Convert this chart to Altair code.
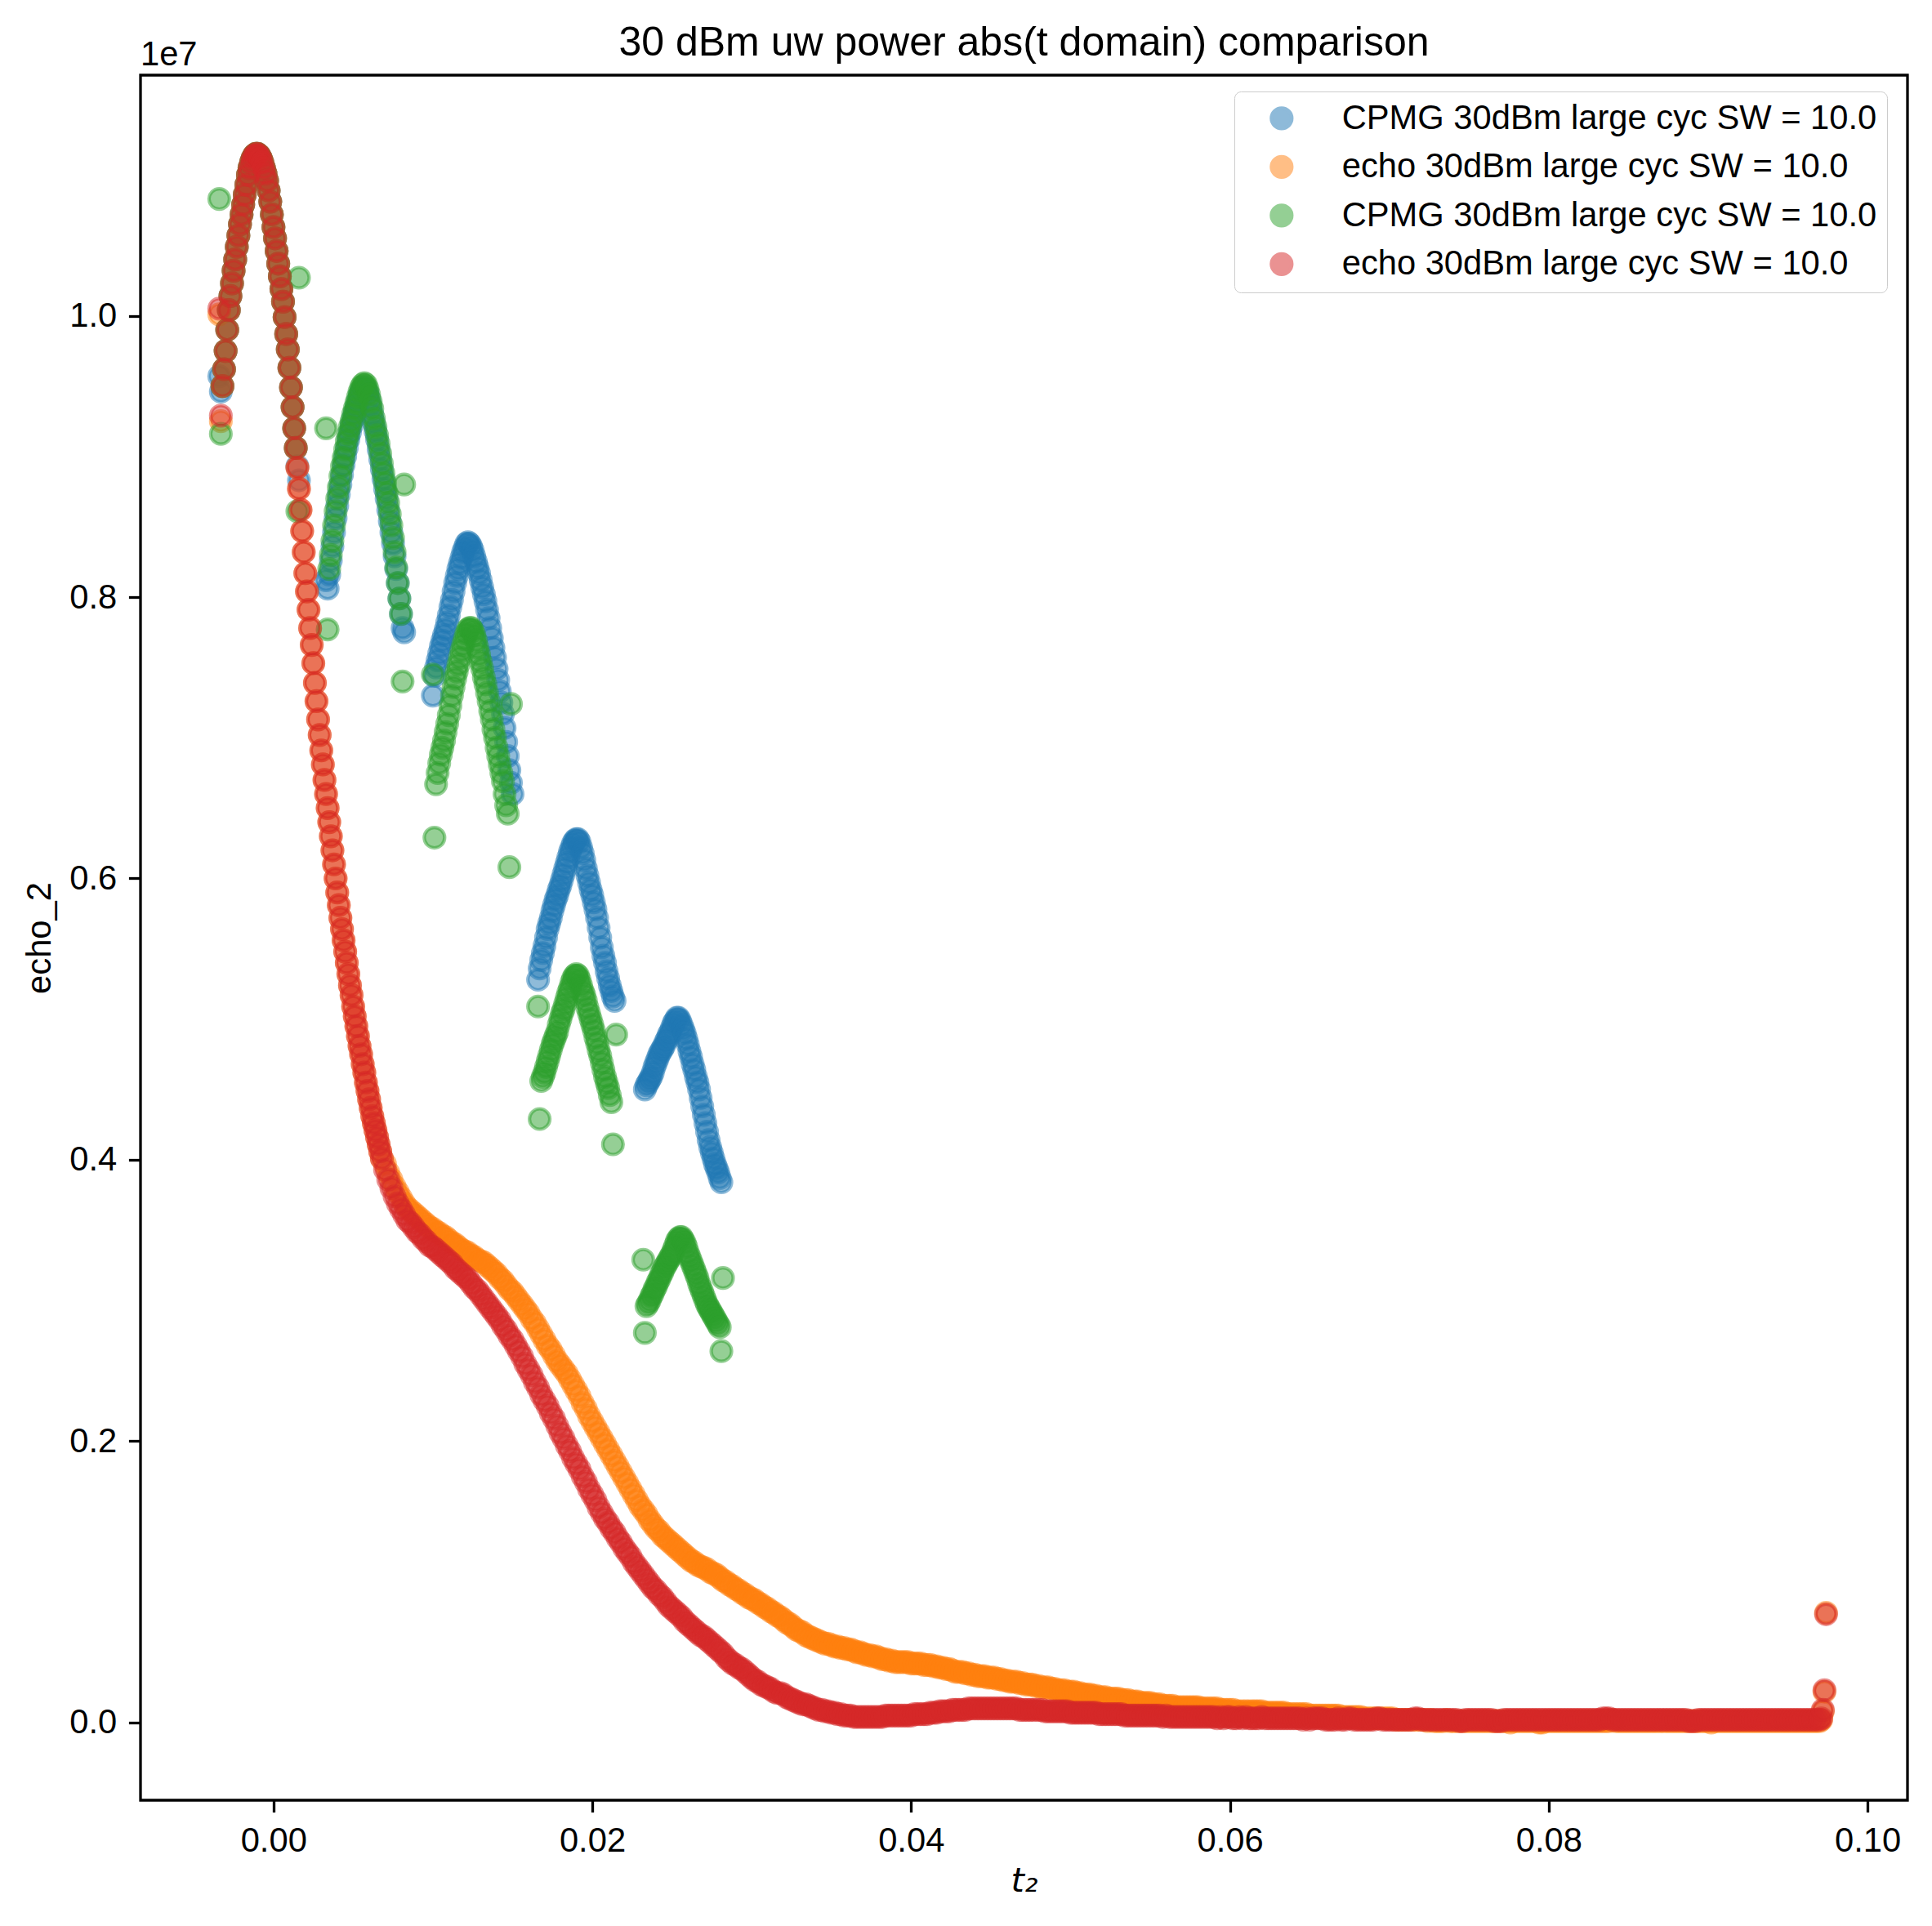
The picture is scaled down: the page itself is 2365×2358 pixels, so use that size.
import altair as alt
import pandas as pd

DT = 0.0001  # one sample = 1 / SW (10 kHz)

TITLE = "30 dBm uw power abs(t domain) comparison"
LABELS = [
    "CPMG 30dBm large cyc SW = 10.0",
    "echo 30dBm large cyc SW = 10.0",
    "CPMG 30dBm large cyc SW = 10.0",
    "echo 30dBm large cyc SW = 10.0",
]
COLORS = ["#1f77b4", "#ff7f0e", "#2ca02c", "#d62728"]
X_TICKS = [0.0, 0.02, 0.04, 0.06, 0.08, 0.10]
Y_TICKS = [0.0, 0.2, 0.4, 0.6, 0.8, 1.0]

# all echo_2 values are in units of 1e7

# first echo, t2 = -0.0034 ... 0.0068 every DT (all four traces sit on it)
echo_head = [
    1.005, 0.929, 0.950, 0.962, 0.975, 0.990, 1.004, 1.014, 1.023, 1.032,
    1.040, 1.049, 1.057, 1.065, 1.072, 1.079, 1.086, 1.093, 1.100, 1.105,
    1.109, 1.112, 1.114, 1.115, 1.115, 1.114, 1.112, 1.109, 1.105, 1.101,
    1.096, 1.089, 1.081, 1.072, 1.063, 1.055, 1.046, 1.037, 1.028, 1.019,
    1.010, 0.999, 0.987, 0.976, 0.963, 0.949, 0.935, 0.920, 0.906, 0.892,
    0.877, 0.862, 0.847, 0.832, 0.817, 0.804, 0.791, 0.778, 0.766, 0.753,
    0.739, 0.726, 0.713, 0.702, 0.691, 0.681, 0.670, 0.660, 0.650, 0.640,
    0.630, 0.620, 0.610, 0.600, 0.590, 0.581, 0.572, 0.564, 0.556, 0.548,
    0.540, 0.532, 0.524, 0.517, 0.509, 0.502, 0.495, 0.488, 0.481, 0.475,
    0.468, 0.462, 0.455, 0.449, 0.443, 0.437, 0.431, 0.426, 0.421, 0.416,
    0.411, 0.406, 0.401,
]

# echo trace (red), t2 = 0.0070 ... 0.0970 every 2*DT, one row per 0.002
red_tail = [
    0.393, 0.386, 0.380, 0.374, 0.369, 0.365, 0.361, 0.357, 0.355, 0.352,
    0.349, 0.347, 0.344, 0.342, 0.339, 0.338, 0.336, 0.334, 0.332, 0.330,
    0.328, 0.326, 0.323, 0.321, 0.319, 0.317, 0.315, 0.312, 0.309, 0.307,
    0.304, 0.301, 0.298, 0.295, 0.292, 0.289, 0.286, 0.282, 0.279, 0.275,
    0.272, 0.268, 0.264, 0.260, 0.255, 0.251, 0.247, 0.242, 0.238, 0.233,
    0.229, 0.225, 0.220, 0.216, 0.211, 0.206, 0.202, 0.197, 0.193, 0.188,
    0.184, 0.180, 0.175, 0.171, 0.166, 0.162, 0.158, 0.153, 0.149, 0.145,
    0.142, 0.138, 0.135, 0.131, 0.128, 0.124, 0.121, 0.118, 0.114, 0.111,
    0.108, 0.105, 0.102, 0.099, 0.096, 0.094, 0.091, 0.089, 0.086, 0.083,
    0.081, 0.079, 0.077, 0.075, 0.072, 0.070, 0.068, 0.066, 0.064, 0.062,
    0.061, 0.059, 0.057, 0.055, 0.053, 0.051, 0.049, 0.046, 0.044, 0.042,
    0.041, 0.039, 0.038, 0.036, 0.034, 0.032, 0.030, 0.029, 0.027, 0.026,
    0.025, 0.024, 0.022, 0.021, 0.021, 0.020, 0.018, 0.017, 0.016, 0.015,
    0.014, 0.013, 0.013, 0.012, 0.011, 0.010, 0.009, 0.009, 0.008, 0.008,
    0.007, 0.007, 0.006, 0.006, 0.005, 0.005, 0.005, 0.004, 0.004, 0.004,
    0.004, 0.004, 0.004, 0.004, 0.004, 0.004, 0.004, 0.005, 0.005, 0.005,
    0.005, 0.005, 0.005, 0.005, 0.005, 0.005, 0.006, 0.006, 0.006, 0.006,
    0.006, 0.007, 0.007, 0.007, 0.008, 0.008, 0.008, 0.008, 0.009, 0.009,
    0.009, 0.009, 0.009, 0.010, 0.010, 0.010, 0.010, 0.010, 0.010, 0.010,
    0.010, 0.010, 0.010, 0.010, 0.010, 0.010, 0.010, 0.010, 0.010, 0.009,
    0.009, 0.009, 0.009, 0.009, 0.009, 0.009, 0.009, 0.008, 0.008, 0.008,
    0.008, 0.008, 0.008, 0.008, 0.008, 0.007, 0.007, 0.007, 0.007, 0.007,
    0.007, 0.007, 0.007, 0.007, 0.006, 0.006, 0.006, 0.006, 0.006, 0.006,
    0.006, 0.006, 0.005, 0.005, 0.005, 0.005, 0.005, 0.005, 0.005, 0.005,
    0.005, 0.005, 0.005, 0.005, 0.004, 0.005, 0.004, 0.004, 0.004, 0.004,
    0.004, 0.004, 0.004, 0.004, 0.004, 0.004, 0.004, 0.004, 0.004, 0.004,
    0.004, 0.003, 0.004, 0.003, 0.004, 0.004, 0.003, 0.003, 0.004, 0.003,
    0.004, 0.003, 0.003, 0.003, 0.003, 0.004, 0.003, 0.003, 0.003, 0.003,
    0.003, 0.003, 0.003, 0.003, 0.003, 0.003, 0.003, 0.003, 0.002, 0.003,
    0.002, 0.003, 0.003, 0.003, 0.003, 0.002, 0.002, 0.002, 0.002, 0.003,
    0.002, 0.002, 0.003, 0.003, 0.002, 0.002, 0.002, 0.002, 0.002, 0.002,
    0.002, 0.003, 0.003, 0.002, 0.002, 0.002, 0.002, 0.002, 0.002, 0.002,
    0.002, 0.002, 0.002, 0.003, 0.003, 0.002, 0.002, 0.002, 0.002, 0.002,
    0.002, 0.002, 0.002, 0.002, 0.002, 0.002, 0.002, 0.001, 0.001, 0.002,
    0.002, 0.002, 0.002, 0.002, 0.002, 0.002, 0.002, 0.002, 0.001, 0.001,
    0.001, 0.002, 0.002, 0.002, 0.002, 0.002, 0.002, 0.002, 0.002, 0.002,
    0.002, 0.002, 0.002, 0.002, 0.002, 0.002, 0.002, 0.002, 0.002, 0.002,
    0.002, 0.002, 0.002, 0.002, 0.002, 0.002, 0.002, 0.002, 0.002, 0.002,
    0.002, 0.002, 0.003, 0.003, 0.003, 0.002, 0.002, 0.002, 0.002, 0.002,
    0.002, 0.002, 0.002, 0.002, 0.002, 0.002, 0.002, 0.002, 0.002, 0.002,
    0.002, 0.002, 0.002, 0.002, 0.002, 0.002, 0.002, 0.002, 0.002, 0.001,
    0.001, 0.001, 0.002, 0.002, 0.002, 0.002, 0.002, 0.002, 0.002, 0.002,
    0.002, 0.002, 0.002, 0.002, 0.002, 0.002, 0.002, 0.002, 0.002, 0.002,
    0.002, 0.002, 0.002, 0.002, 0.002, 0.002, 0.002, 0.002, 0.002, 0.002,
    0.002, 0.002, 0.002, 0.002, 0.002, 0.002, 0.002, 0.002, 0.002, 0.002,
    0.002,
]
# t2 = 0.0971 ... 0.0974 every DT
red_end = [0.003, 0.009, 0.023, 0.077]

# echo trace (orange), t2 = 0.0070 ... 0.0970 every 2*DT
orange_tail = [
    0.397, 0.391, 0.386, 0.381, 0.377, 0.373, 0.369, 0.366, 0.364, 0.362,
    0.360, 0.358, 0.356, 0.354, 0.352, 0.351, 0.349, 0.348, 0.346, 0.345,
    0.343, 0.341, 0.340, 0.338, 0.336, 0.335, 0.334, 0.332, 0.331, 0.329,
    0.328, 0.327, 0.325, 0.323, 0.321, 0.319, 0.316, 0.314, 0.311, 0.308,
    0.306, 0.303, 0.300, 0.297, 0.294, 0.291, 0.287, 0.284, 0.280, 0.276,
    0.272, 0.268, 0.265, 0.261, 0.257, 0.254, 0.251, 0.248, 0.244, 0.240,
    0.236, 0.232, 0.227, 0.223, 0.218, 0.214, 0.210, 0.206, 0.202, 0.198,
    0.194, 0.190, 0.186, 0.182, 0.178, 0.174, 0.170, 0.166, 0.162, 0.158,
    0.154, 0.151, 0.148, 0.144, 0.141, 0.138, 0.136, 0.133, 0.131, 0.129,
    0.127, 0.125, 0.123, 0.121, 0.119, 0.117, 0.115, 0.114, 0.112, 0.111,
    0.110, 0.109, 0.107, 0.106, 0.105, 0.103, 0.101, 0.100, 0.098, 0.097,
    0.095, 0.094, 0.092, 0.091, 0.089, 0.088, 0.087, 0.085, 0.084, 0.082,
    0.081, 0.079, 0.078, 0.076, 0.075, 0.073, 0.071, 0.070, 0.068, 0.066,
    0.065, 0.064, 0.062, 0.061, 0.060, 0.059, 0.058, 0.057, 0.056, 0.056,
    0.055, 0.054, 0.054, 0.053, 0.053, 0.052, 0.052, 0.051, 0.050, 0.050,
    0.049, 0.048, 0.048, 0.047, 0.047, 0.046, 0.045, 0.045, 0.044, 0.044,
    0.043, 0.043, 0.043, 0.043, 0.043, 0.042, 0.042, 0.042, 0.042, 0.041,
    0.041, 0.041, 0.040, 0.040, 0.039, 0.039, 0.038, 0.038, 0.037, 0.036,
    0.036, 0.036, 0.035, 0.035, 0.034, 0.034, 0.033, 0.033, 0.033, 0.032,
    0.032, 0.032, 0.031, 0.031, 0.030, 0.030, 0.029, 0.029, 0.029, 0.028,
    0.028, 0.027, 0.027, 0.027, 0.026, 0.026, 0.025, 0.025, 0.025, 0.024,
    0.024, 0.023, 0.023, 0.023, 0.022, 0.022, 0.022, 0.021, 0.021, 0.020,
    0.020, 0.020, 0.019, 0.019, 0.018, 0.018, 0.018, 0.017, 0.017, 0.017,
    0.017, 0.016, 0.016, 0.016, 0.015, 0.015, 0.015, 0.014, 0.014, 0.014,
    0.014, 0.013, 0.013, 0.013, 0.012, 0.012, 0.012, 0.012, 0.011, 0.011,
    0.011, 0.011, 0.011, 0.011, 0.011, 0.011, 0.010, 0.010, 0.010, 0.010,
    0.010, 0.010, 0.009, 0.009, 0.009, 0.009, 0.009, 0.008, 0.008, 0.008,
    0.008, 0.008, 0.008, 0.008, 0.008, 0.008, 0.007, 0.007, 0.007, 0.007,
    0.007, 0.007, 0.007, 0.006, 0.006, 0.006, 0.006, 0.006, 0.006, 0.006,
    0.005, 0.005, 0.005, 0.005, 0.005, 0.005, 0.005, 0.005, 0.005, 0.005,
    0.004, 0.004, 0.004, 0.004, 0.004, 0.004, 0.004, 0.003, 0.003, 0.003,
    0.003, 0.003, 0.003, 0.003, 0.003, 0.003, 0.003, 0.002, 0.002, 0.002,
    0.002, 0.002, 0.002, 0.002, 0.002, 0.002, 0.002, 0.001, 0.002, 0.001,
    0.001, 0.001, 0.001, 0.002, 0.001, 0.001, 0.001, 0.001, 0.001, 0.001,
    0.001, 0.001, 0.001, 0.001, 0.001, 0.001, 0.001, 0.001, 0.001, 0.001,
    0.001, 0.001, 0.001, 0.000, 0.001, 0.001, 0.001, 0.001, 0.001, 0.001,
    0.001, 0.001, 0.000, 0.000, 0.001, 0.001, 0.001, 0.001, 0.001, 0.001,
    0.001, 0.001, 0.001, 0.001, 0.001, 0.001, 0.001, 0.001, 0.001, 0.001,
    0.001, 0.001, 0.001, 0.001, 0.001, 0.002, 0.001, 0.001, 0.001, 0.001,
    0.001, 0.001, 0.001, 0.001, 0.001, 0.001, 0.001, 0.001, 0.001, 0.001,
    0.001, 0.001, 0.001, 0.001, 0.001, 0.001, 0.001, 0.001, 0.001, 0.001,
    0.001, 0.001, 0.001, 0.001, 0.001, 0.001, 0.000, 0.001, 0.001, 0.001,
    0.001, 0.001, 0.001, 0.001, 0.001, 0.001, 0.001, 0.001, 0.001, 0.001,
    0.001, 0.001, 0.001, 0.001, 0.001, 0.001, 0.001, 0.001, 0.001, 0.001,
    0.001, 0.001, 0.001, 0.001, 0.001, 0.001, 0.001, 0.001, 0.001, 0.001,
    0.001,
]
orange_end = [0.002, 0.008, 0.022, 0.078]

# CPMG trace (blue), one list per echo window, every DT
blue_echo2 = [  # t2 = 0.0033 ... 0.0082
    0.812, 0.806, 0.816, 0.826, 0.836, 0.846, 0.856, 0.865, 0.873, 0.880,
    0.887, 0.894, 0.900, 0.906, 0.912, 0.917, 0.922, 0.927, 0.931, 0.935,
    0.939, 0.943, 0.946, 0.948, 0.949, 0.948, 0.945, 0.941, 0.936, 0.930,
    0.924, 0.918, 0.912, 0.905, 0.898, 0.891, 0.884, 0.877, 0.870, 0.862,
    0.854, 0.846, 0.838, 0.829, 0.820, 0.810, 0.799, 0.788, 0.778, 0.775,
]
blue_echo3 = [  # t2 = 0.0100 ... 0.0150
    0.730, 0.744, 0.750, 0.755, 0.760, 0.765, 0.769, 0.773, 0.777, 0.782,
    0.787, 0.793, 0.798, 0.804, 0.810, 0.815, 0.820, 0.824, 0.828, 0.832,
    0.835, 0.838, 0.839, 0.838, 0.836, 0.833, 0.829, 0.825, 0.821, 0.817,
    0.812, 0.807, 0.802, 0.797, 0.791, 0.785, 0.778, 0.771, 0.764, 0.757,
    0.749, 0.741, 0.733, 0.725, 0.717, 0.707, 0.697, 0.687, 0.677, 0.668,
    0.660,
]
blue_echo4 = [  # t2 = 0.0166 ... 0.0214
    0.528, 0.536, 0.542, 0.547,
    0.552, 0.558, 0.564, 0.568, 0.572, 0.577, 0.581, 0.585, 0.588, 0.592,
    0.595, 0.599, 0.603, 0.607, 0.611, 0.615, 0.619, 0.622, 0.625, 0.627,
    0.628, 0.628, 0.626, 0.622, 0.618, 0.613, 0.607, 0.602, 0.597, 0.592,
    0.588, 0.583, 0.578, 0.572, 0.565, 0.558, 0.551, 0.545, 0.540, 0.534,
    0.529, 0.524, 0.520, 0.516, 0.513,
]
blue_echo5 = [  # t2 = 0.0233 ... 0.0281
    0.450, 0.453, 0.455, 0.457, 0.459, 0.462, 0.466,
    0.469, 0.472, 0.475, 0.477, 0.479, 0.481, 0.484, 0.486, 0.489, 0.491,
    0.494, 0.497, 0.499, 0.501, 0.501, 0.499, 0.496, 0.493, 0.490, 0.486,
    0.482, 0.477, 0.473, 0.468, 0.464, 0.459, 0.455, 0.450, 0.444, 0.438,
    0.432, 0.426, 0.420, 0.414, 0.409, 0.405, 0.401, 0.397, 0.394, 0.391,
    0.387, 0.384,
]

# CPMG trace (green), every DT
green_echo2 = [  # t2 = 0.0035 ... 0.0080
    0.820, 0.830, 0.840, 0.851, 0.861, 0.870, 0.878, 0.886, 0.893, 0.899,
    0.905, 0.911, 0.916, 0.921, 0.925, 0.930, 0.934, 0.938, 0.942, 0.946,
    0.949, 0.951, 0.952, 0.951, 0.948, 0.944, 0.939, 0.934, 0.927, 0.921,
    0.915, 0.909, 0.902, 0.895, 0.888, 0.881, 0.874, 0.867, 0.859, 0.851,
    0.842, 0.832, 0.821, 0.810, 0.799, 0.788,
]
green_echo3 = [  # t2 = 0.0102 ... 0.0147
    0.667, 0.675, 0.682, 0.688, 0.693, 0.698, 0.704, 0.710,
    0.716, 0.723, 0.730, 0.736, 0.742, 0.747, 0.752, 0.757, 0.762, 0.766,
    0.770, 0.774, 0.777, 0.778, 0.778, 0.776, 0.773, 0.769, 0.764, 0.759,
    0.754, 0.749, 0.743, 0.738, 0.732, 0.726, 0.719, 0.713, 0.706, 0.700,
    0.693, 0.687, 0.681, 0.675, 0.669, 0.660, 0.652, 0.646,
]
green_echo4 = [  # t2 = 0.0168 ... 0.0212
    0.456, 0.459,
    0.462, 0.466, 0.470, 0.474, 0.478, 0.482, 0.485, 0.488, 0.491, 0.496,
    0.500, 0.504, 0.507, 0.511, 0.515, 0.519, 0.522, 0.526, 0.529, 0.531,
    0.532, 0.531, 0.528, 0.524, 0.520, 0.517, 0.513, 0.508, 0.504, 0.500,
    0.496, 0.492, 0.487, 0.483, 0.478, 0.474, 0.469, 0.464, 0.459, 0.455,
    0.451, 0.446, 0.441,
]
green_echo5 = [  # t2 = 0.0234 ... 0.0280
    0.296, 0.298, 0.300, 0.303, 0.305, 0.308,
    0.310, 0.313, 0.315, 0.318, 0.320, 0.323, 0.325, 0.327, 0.329, 0.331,
    0.333, 0.336, 0.339, 0.342, 0.344, 0.345, 0.345, 0.343, 0.341, 0.338,
    0.334, 0.331, 0.328, 0.325, 0.322, 0.319, 0.316, 0.312, 0.309, 0.306,
    0.303, 0.300, 0.297, 0.295, 0.293, 0.291, 0.289, 0.287, 0.285, 0.283,
    0.281,
]
# stray first / last samples of each green echo window
green_out_t = [-0.0034, -0.0033, 0.0015, 0.0016, 0.0033, 0.0034, 0.0081, 0.0082,
               0.0100, 0.0101, 0.0148, 0.0149, 0.0166, 0.0167, 0.0213, 0.0215,
               0.0232, 0.0233, 0.0281, 0.0282]
green_out_y = [1.083, 0.916, 0.861, 1.027, 0.920, 0.777, 0.740, 0.880,
               0.745, 0.629, 0.608, 0.724, 0.509, 0.429, 0.411, 0.489,
               0.329, 0.277, 0.264, 0.316]

KEYS = [f"{i}|{lab}" for i, lab in enumerate(LABELS)]


def rows(key, t0, step, values):
    return [{"t2": round(t0 + i * step, 6), "echo_2": v, "series": key}
            for i, v in enumerate(values)]


records = []
# blue
records += rows(KEYS[0], -0.0034, DT, [0.957, 0.946] + echo_head[2:49] + [0.893, 0.883])
records += rows(KEYS[0], 0.0033, DT, blue_echo2)
records += rows(KEYS[0], 0.0100, DT, blue_echo3)
records += rows(KEYS[0], 0.0166, DT, blue_echo4)
records += rows(KEYS[0], 0.0233, DT, blue_echo5)
# orange
records += rows(KEYS[1], -0.0034, DT, [1.001, 0.925] + echo_head[2:])
records += rows(KEYS[1], 0.0070, 2 * DT, orange_tail)
records += rows(KEYS[1], 0.0971, DT, orange_end)
# green
records += rows(KEYS[2], -0.0032, DT, echo_head[2:49])
records += rows(KEYS[2], 0.0035, DT, green_echo2)
records += rows(KEYS[2], 0.0102, DT, green_echo3)
records += rows(KEYS[2], 0.0168, DT, green_echo4)
records += rows(KEYS[2], 0.0234, DT, green_echo5)
records += [{"t2": t, "echo_2": v, "series": KEYS[2]} for t, v in zip(green_out_t, green_out_y)]
# red
records += rows(KEYS[3], -0.0034, DT, echo_head)
records += rows(KEYS[3], 0.0070, 2 * DT, red_tail)
records += rows(KEYS[3], 0.0971, DT, red_end)

df = pd.DataFrame(records)

FONT = "Liberation Sans"
FS = 41.7
W, H = 2163, 2112
MARK_SIZE = 625  # vega symbol size = square of the diameter

color_scale = alt.Scale(domain=KEYS, range=COLORS)
legend = alt.Legend(
    title=None,
    orient="none",
    legendX=1339,
    legendY=20,
    labelExpr="split(datum.label, '|')[1]",
    labelFont=FONT,
    labelFontSize=FS,
    labelColor="black",
    labelLimit=2000,
    labelOffset=53,
    symbolType="circle",
    symbolSize=MARK_SIZE,
    symbolStrokeWidth=4.2,
    symbolOffset=25,
    symbolOpacity=0.5,
    rowPadding=15.5,
    padding=12,
    fillColor="rgba(255,255,255,0.8)",
    strokeColor="#cccccc",
    cornerRadius=8,
)

points = (
    alt.Chart(df)
    .mark_circle(size=MARK_SIZE, opacity=1, fillOpacity=0.5, strokeOpacity=0.5, strokeWidth=4.2)
    .encode(
        x=alt.X(
            "t2:Q",
            scale=alt.Scale(domain=[-0.00834, 0.10251], nice=False, zero=False),
            axis=alt.Axis(values=X_TICKS, format=".2f", title="t₂",
                          titleFont="DejaVu Sans", titleFontStyle="italic",
                          titlePadding=8),
        ),
        y=alt.Y(
            "echo_2:Q",
            scale=alt.Scale(domain=[-0.0552, 1.1710], nice=False, zero=False),
            axis=alt.Axis(values=Y_TICKS, format=".1f", title="echo_2", titlePadding=14),
        ),
        fill=alt.Fill("series:N", scale=color_scale, legend=legend),
        stroke=alt.Stroke("series:N", scale=color_scale, legend=legend),
    )
)

offset_text = (
    alt.Chart(pd.DataFrame({"txt": ["1e7"]}))
    .mark_text(align="left", baseline="alphabetic", font=FONT, fontSize=FS, color="black")
    .encode(text="txt:N", x=alt.value(0), y=alt.value(-12))
)

title_text = (
    alt.Chart(pd.DataFrame({"txt": [TITLE]}))
    .mark_text(align="center", baseline="alphabetic", font=FONT, fontSize=50, color="black")
    .encode(text="txt:N", x=alt.value(W / 2), y=alt.value(-24))
)

chart = (
    alt.layer(points, offset_text, title_text)
    .properties(
        width=W,
        height=H,
        autosize=alt.AutoSizeParams(type="none"),
        padding={"left": 164, "top": 84, "right": 15, "bottom": 130},
    )
    .configure_view(stroke="black", strokeWidth=3.3)
    .configure_axis(
        domain=False,
        grid=False,
        ticks=True,
        tickSize=14.6,
        tickWidth=3.3,
        tickColor="black",
        labelFont=FONT,
        labelFontSize=FS,
        labelColor="black",
        labelPadding=14.6,
        titleFont=FONT,
        titleFontSize=FS,
        titleFontWeight="normal",
        titleColor="black",
    )
)

chart.save("out.html", embed_options={"renderer": "svg", "actions": False})
